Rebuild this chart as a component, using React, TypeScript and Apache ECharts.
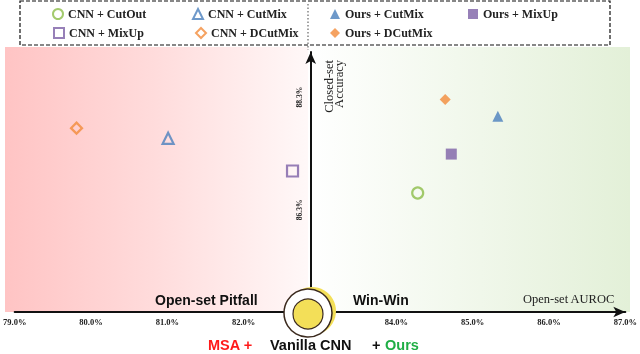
import React, { useEffect, useRef } from 'react';
import * as echarts from 'echarts';

const seriesNames = ['CNN + CutOut', 'CNN + CutMix', 'CNN + MixUp', 'CNN + DCutMix', 'Ours + CutMix', 'Ours + MixUp', 'Ours + DCutMix'];
const aurocValues = [84.28, 81.01, 82.64, 79.81, 85.33, 84.72, 84.64];
const accuracyValues = [86.6, 87.57, 86.99, 87.75, 87.96, 87.29, 88.26];
const symbols = ['circle', 'triangle', 'rect', 'diamond', 'triangle', 'rect', 'diamond'];
const hollow = [true, true, true, true, false, false, false];
const colors = ['#8cbd48', '#4a7fbd', '#7d60a6', '#f28b3a', '#4a7fbd', '#7d60a6', '#f28b3a'];
const xTickValues = [79, 80, 81, 82, 84, 85, 86, 87];
const yTickValues = [86.3, 88.3];
const xRange = [79, 87];
const yRange = [84.49, 89.1];
const yAxisCrossAt = 82.857;

export default function App() {
  const ref = useRef<HTMLDivElement>(null);
  useEffect(() => {
    if (!ref.current) return;
    const chart = echarts.init(ref.current, null, { renderer: 'svg' });
    const W = 640;
    const gridLeft = 12;
    const gridRight = 14;
    const gridW = W - gridLeft - gridRight;
    const yOffset = -((yAxisCrossAt - xRange[0]) / (xRange[1] - xRange[0])) * gridW;
    const legendPos = [
      [52, 8], [192, 8], [53, 27], [195, 27], [330, 8], [468, 8], [330, 27],
    ];
    const legends = seriesNames.map((n, i) => ({
      left: legendPos[i][0],
      top: legendPos[i][1],
      padding: 0,
      selectedMode: false,
      itemWidth: 10,
      itemHeight: 10,
      textStyle: { fontFamily: 'Liberation Serif', fontWeight: 'bold', fontSize: 12, color: '#222' },
      data: [{
        name: n,
        icon: symbols[i],
        itemStyle: hollow[i]
          ? { color: '#fff', borderColor: colors[i], borderWidth: 2 }
          : { color: colors[i], borderWidth: 0 },
      }],
    }));
    const series = seriesNames.map((n, i) => ({
      name: n,
      type: 'scatter',
      symbol: symbols[i],
      symbolSize: 11,
      z: 5,
      itemStyle: hollow[i]
        ? { color: 'rgba(255,255,255,0)', borderColor: colors[i], borderWidth: 2.2 }
        : { color: colors[i] },
      data: [[aurocValues[i], accuracyValues[i]]],
    }));
    const txt = (x: number, y: number, text: string, extra: any = {}, el: any = {}) => ({
      type: 'text', x, y, z: 50, ...el,
      style: { text, align: 'left', textAlign: 'left', verticalAlign: 'middle', textVerticalAlign: 'middle', ...extra },
    });
    chart.setOption({
      animation: false,
      legend: legends,
      grid: { left: gridLeft, right: gridRight, top: 52, bottom: 42 },
      xAxis: {
        type: 'value', min: xRange[0], max: xRange[1],
        axisLine: { show: true, lineStyle: { color: '#111', width: 2 }, symbol: ['none', 'arrow'], symbolSize: [8, 12] },
        axisTick: { show: false },
        splitLine: { show: false },
        axisLabel: {
          customValues: xTickValues,
          formatter: (v: number) => v.toFixed(1) + '%',
          fontFamily: 'Liberation Serif', fontWeight: 'bold', fontSize: 8.5, color: '#222', margin: 5,
        },
      },
      yAxis: {
        type: 'value', min: yRange[0], max: yRange[1], position: 'left', offset: yOffset,
        axisLine: { show: true, lineStyle: { color: '#111', width: 2 }, symbol: ['none', 'arrow'], symbolSize: [8, 12] },
        axisTick: { show: false },
        splitLine: { show: false },
        axisLabel: {
          customValues: yTickValues,
          formatter: (v: number) => v.toFixed(1) + '%',
          rotate: 90,
          fontFamily: 'Liberation Serif', fontWeight: 'bold', fontSize: 7.5, color: '#222', margin: 7,
        },
      },
      graphic: [
        {
          type: 'rect', z: -10, shape: { x: 5, y: 47, width: 303, height: 265 },
          style: { fill: new echarts.graphic.LinearGradient(0, 0, 1, 0, [
            { offset: 0, color: '#ffc4c4' }, { offset: 0.5, color: '#ffdcdc' }, { offset: 1, color: '#fff8f8' }]) },
        },
        {
          type: 'rect', z: -10, shape: { x: 308, y: 47, width: 322, height: 265 },
          style: { fill: new echarts.graphic.LinearGradient(0, 0, 1, 0, [
            { offset: 0, color: '#ffffff' }, { offset: 1, color: '#e3f0d8' }]) },
        },
        {
          type: 'rect', z: 10, shape: { x: 20, y: 1, width: 590, height: 44 },
          style: { fill: 'none', stroke: '#111', lineWidth: 1.2, lineDash: [4, 2] },
        },
        {
          type: 'line', z: 10, shape: { x1: 308, y1: 4, x2: 308, y2: 50 },
          style: { stroke: '#666', lineWidth: 1.2, lineDash: [1.5, 2] },
        },
        txt(155, 300, 'Open-set Pitfall', { font: 'bold 14px "Liberation Sans"', fill: '#111' }),
        txt(353, 300, 'Win-Win', { font: 'bold 14px "Liberation Sans"', fill: '#111' }),
        txt(523, 299, 'Open-set AUROC', { font: '12.5px "Liberation Serif"', fill: '#222' }),
        txt(329, 60, 'Closed-set', { font: '12.5px "Liberation Serif"', fill: '#222', align: 'right', textAlign: 'right' }, { rotation: Math.PI / 2 }),
        txt(339, 60, 'Accuracy', { font: '12.5px "Liberation Serif"', fill: '#222', align: 'right', textAlign: 'right' }, { rotation: Math.PI / 2 }),
        { type: 'circle', z: 90, shape: { cx: 312, cy: 311, r: 24 }, style: { fill: '#f3df58' } },
        { type: 'circle', z: 91, shape: { cx: 308, cy: 313, r: 24 }, style: { fill: '#fff', stroke: '#3b2a1e', lineWidth: 1.5 } },
        { type: 'circle', z: 92, shape: { cx: 308, cy: 314, r: 15 }, style: { fill: '#f3df58', stroke: '#3b2a1e', lineWidth: 1.2 } },
        txt(208, 345, 'MSA +', { font: 'bold 14.5px "Liberation Sans"', fill: '#ff1a1a' }),
        txt(270, 345, 'Vanilla CNN', { font: 'bold 14.5px "Liberation Sans"', fill: '#111' }),
        txt(372, 345, '+', { font: 'bold 14.5px "Liberation Sans"', fill: '#111' }),
        txt(385, 345, 'Ours', { font: 'bold 14.5px "Liberation Sans"', fill: '#1fae45' }),
      ],
      series,
    });
    return () => chart.dispose();
  }, []);
  return <div ref={ref} style={{ position: 'fixed', left: 0, top: 0, width: 640, height: 354 }} />;
}
